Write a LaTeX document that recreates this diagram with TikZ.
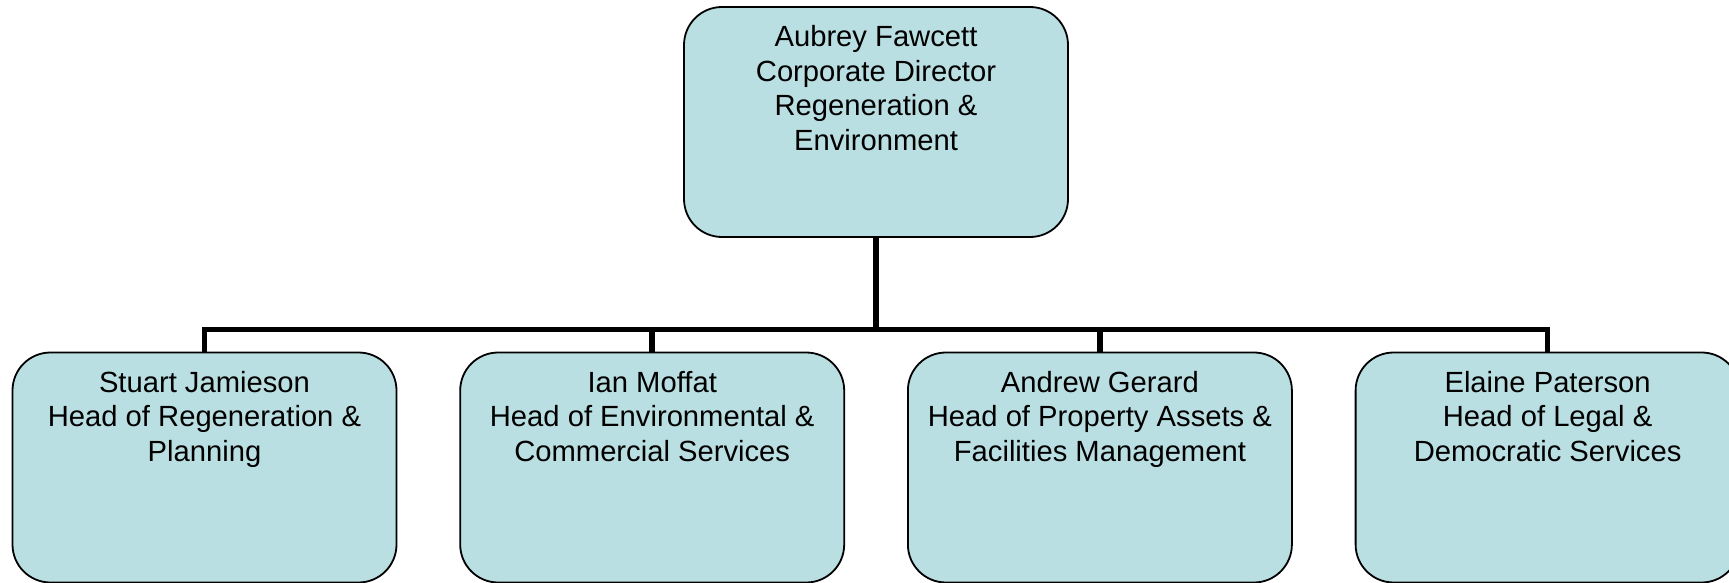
\documentclass[tikz,border=0pt]{standalone}
\usepackage{fontspec}
\setmainfont{Liberation Sans}
\definecolor{boxfill}{RGB}{186,223,226}
\tikzset{
  orgbox/.style={draw=black, line width=1.8pt, fill=boxfill, rounded corners=38pt,
    inner sep=0pt, outer sep=0pt, anchor=north},
  conn/.style={draw=black, line width=5.6pt}
}
\newcommand{\boxtext}[1]{\parbox[t][230pt][t]{384pt}{\centering\fontsize{29.2}{34.6}\selectfont\rule{0pt}{39.5pt}#1\par}}
\begin{document}
\begin{tikzpicture}[x=1pt,y=1pt]
\useasboundingbox (0,0) rectangle (1729,-583);
\node[orgbox] (top) at (876,-7) {\boxtext{Aubrey Fawcett\\Corporate Director\\Regeneration \&\\Environment}};
\node[orgbox] (b1) at (204.5,-352.5) {\boxtext{Stuart Jamieson\\Head of Regeneration \&\\Planning}};
\node[orgbox] (b2) at (652.2,-352.5) {\boxtext{Ian Moffat\\Head of Environmental \&\\Commercial Services}};
\node[orgbox] (b3) at (1099.9,-352.5) {\boxtext{Andrew Gerard\\Head of Property Assets \&\\Facilities Management}};
\node[orgbox] (b4) at (1547.6,-352.5) {\boxtext{Elaine Paterson\\Head of Legal \&\\Democratic Services}};
\coordinate (bus) at (0,-329.5);
\draw[conn] (top.south) -- (top.south |- bus);
\draw[conn] (b1.north) -- (b1.north |- bus) -- (b4.north |- bus) -- (b4.north);
\draw[conn] (b2.north) -- (b2.north |- bus);
\draw[conn] (b3.north) -- (b3.north |- bus);
\end{tikzpicture}
\end{document}
